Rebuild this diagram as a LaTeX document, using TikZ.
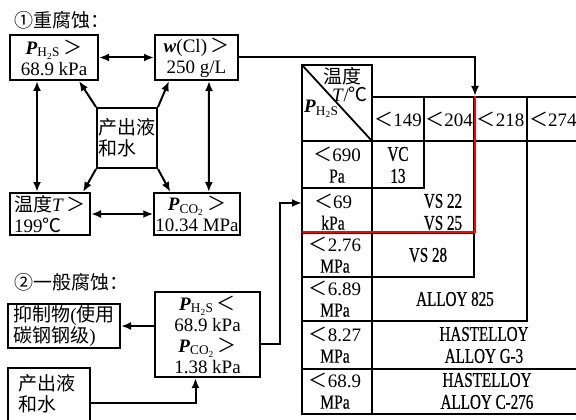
\documentclass[tikz,border=0pt]{standalone}
\usepackage{fontspec}
\setmainfont{Liberation Serif}
\newfontfamily\cjkfont{Noto Sans CJK SC}
\newfontfamily\matfont[FakeStretch=0.72,FakeBold=0.6]{Liberation Serif}
\newfontfamily\unitfont[FakeStretch=0.78,FakeBold=0.4]{Liberation Serif}
\newcommand\zh[1]{{\cjkfont #1}}
\newcommand\un[1]{{\unitfont\fontsize{20}{21}\selectfont #1}}
\usetikzlibrary{arrows.meta,calc}
\newcommand\PP[1]{\textbf{\textit{P}}\textsubscript{#1}}
\begin{document}
\begin{tikzpicture}[x=1pt,y=-1pt,
  txt/.style={font=\fontsize{19}{21}\selectfont, inner sep=0pt},
  box/.style={draw, line width=2pt, inner sep=1pt, font=\fontsize{19}{21}\selectfont, align=center},
  arr/.style={line width=2pt, -{Latex[length=10pt,width=8pt]}},
  dbl/.style={line width=2pt, {Latex[length=10pt,width=8pt]}-{Latex[length=10pt,width=8pt]}},
  grid/.style={line width=1.8pt},
  cell/.style={font=\fontsize{19}{21}\selectfont, align=center, inner sep=0pt},
  mat/.style={font=\matfont\fontsize{21}{22}\selectfont, align=center, inner sep=0pt},
]
\useasboundingbox (0,0) rectangle (576,420);
\clip (0,0) rectangle (576,420);
% part 1
\node[txt, anchor=west] (title1) at (14,20) {\zh{①重腐蚀：}};
\node[box, minimum width=88, minimum height=45] (ph2s) at (54,57.5) {\PP{H\textsubscript{2}S}\,\zh{＞}\\68.9 kPa};
\node[box, minimum width=83, minimum height=45] (wcl) at (196.5,57.5) {\textbf{\textit{w}}(Cl)\,\zh{＞}\\250 g/L};
\node[box, minimum width=60, minimum height=60, align=left] (src1) at (127,138) {\zh{产出液}\\\zh{和水}};
\node[box, minimum width=80, minimum height=42, align=left] (temp) at (50,214) {\zh{温度}\textit{T}\,\zh{＞}\\199\zh{℃}};
\node[box, minimum width=85, minimum height=42] (pco2) at (197,214) {\PP{CO\textsubscript{2}}\,\zh{＞}\\10.34 MPa};
\draw[dbl] (ph2s.east) -- (wcl.west);
\draw[dbl] ($(ph2s.south west)+(28,0)$) -- ($(temp.north west)+(28,0)$);
\draw[dbl] ($(wcl.south west)+(55,0)$) -- ($(pco2.north west)+(55.5,0)$);
\draw[dbl] (temp.east) -- (pco2.west);
\draw[arr] (src1.north west) -- ($(ph2s.south east)+(-20,0)$);
\draw[arr] (src1.north east) -- ($(wcl.south west)+(15,0)$);
\draw[arr] (src1.south west) -- ($(temp.north east)+(-8,0)$);
\draw[arr] (src1.south east) -- ($(pco2.north west)+(17,0)$);
% table
\coordinate (c218) at (475,96);
\coordinate (r2) at (302,203);
\draw[grid] (302,65) rectangle (372,141);
\draw[grid] (302,65) -- (372,141);
\draw[grid] (372,97) -- (580,97);
\draw[grid] (302,141) -- (580,141);
\draw[grid] (302,141) -- (302,414) -- (580,414);
\draw[grid] (372,141) -- (372,414);
\draw[grid] (302,188) -- (424,188) -- (424,97);
\draw[grid] (302,233) -- (474,233);
\draw[grid] (474,97) -- (474,277) -- (302,277);
\draw[grid] (527,97) -- (527,321) -- (302,321);
\draw[grid] (302,369) -- (580,369);
\draw[red, line width=2.8pt] (302,232) -- (475,232) -- (475,96);
\draw[arr] (wcl.east) -| (c218);
\node[cell] (wd) at (342,76) {\zh{温度}};
\node[cell] (tc) at (350,94) {\textit{T}/\zh{℃}};
\node[cell, anchor=west] (ph) at (304,109) {\PP{H\textsubscript{2}S}};
\node[cell] (h149) at (398,119) {\zh{＜}149};
\node[cell] (h204) at (449,119) {\zh{＜}204};
\node[cell] (h218) at (500.5,119) {\zh{＜}218};
\node[cell, anchor=west] (h274) at (529,119) {\zh{＜}274};
\node[cell] (r1) at (337,165) {\zh{＜}690\\\un{Pa}};
\node[cell] (r2l) at (333,212) {\zh{＜}69\\\un{kPa}};
\node[cell] (r3) at (335,255) {\zh{＜}2.76\\\un{MPa}};
\node[cell] (r4) at (335,299) {\zh{＜}6.89\\\un{MPa}};
\node[cell] (r5) at (335,345) {\zh{＜}8.27\\\un{MPa}};
\node[cell] (r6) at (335,391) {\zh{＜}68.9\\\un{MPa}};
\node[mat] (vc) at (398,165) {VC\\13};
\node[mat] (vs) at (443,212) {VS 22\\VS 25};
\node[mat] (vs28) at (428,255) {VS 28};
\node[mat] (a825) at (455,299) {ALLOY 825};
\node[mat] (g3) at (484,345) {HASTELLOY\\ALLOY G-3};
\node[mat] (c276) at (487,391) {HASTELLOY\\ALLOY C-276};
% part 2
\node[txt, anchor=west] (title2) at (14,282) {\zh{②一般腐蚀：}};
\node[box, minimum width=112, minimum height=44, align=left] (inhib) at (64,326) {\zh{抑制物}(\zh{使用}\\\zh{碳钢钢级})};
\node[box, minimum width=105, minimum height=85, inner sep=0pt, font=\fontsize{19}{21}\selectfont] (pbox) at (207.5,334.5) {\PP{H\textsubscript{2}S}\,\zh{＜}\\68.9 kPa\\\PP{CO\textsubscript{2}}\,\zh{＞}\\1.38 kPa};
\node[box, minimum width=82, minimum height=70] (src2) at (49,403) {};
\node[txt, anchor=north west, align=left] (src2t) at (18,374) {\zh{产出液}\\\zh{和水}};
\draw[arr] (pbox.west |- inhib.east) -- (inhib.east);
\draw[arr] (src2.east) -| ($(pbox.south)+(-12,0)$);
\draw[arr] ($(pbox.south east)+(0,-34)$) -| ($(r2)+(-22,0)$) -- (r2);
\end{tikzpicture}
\end{document}
